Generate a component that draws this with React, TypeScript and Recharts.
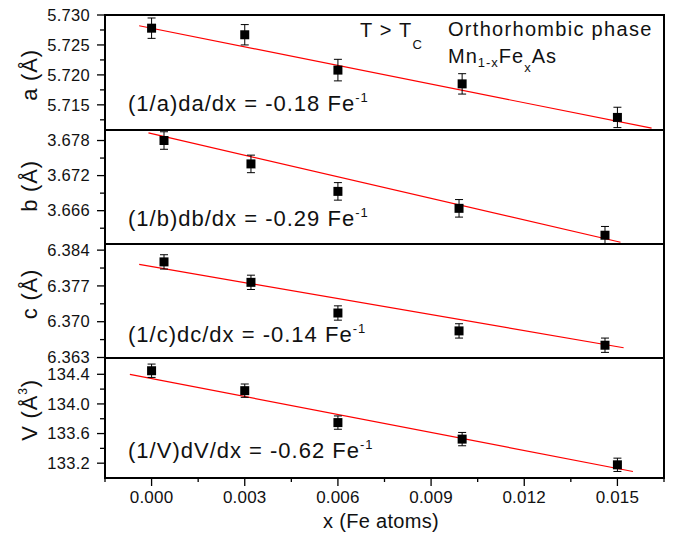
import React from "react";
import { ComposedChart, Scatter, Line, XAxis, YAxis, ZAxis, ErrorBar } from "recharts";

// Fe content of the samples (x in Mn1-xFexAs)
const X_AV = [0.0, 0.003, 0.006, 0.01, 0.015];
const X_BC = [0.0004, 0.0032, 0.006, 0.0099, 0.0146];

// lattice parameters with error bars
const A_VAL = [5.7278, 5.7267, 5.7208, 5.7185, 5.7129];
const A_ERR = [0.0017, 0.0017, 0.0018, 0.0017, 0.0017];
const B_VAL = [3.678, 3.674, 3.6693, 3.6664, 3.6618];
const B_ERR = [0.0015, 0.0015, 0.0015, 0.0015, 0.0015];
const C_VAL = [6.3817, 6.3777, 6.3717, 6.3682, 6.3654];
const C_ERR = [0.0014, 0.0014, 0.0014, 0.0014, 0.0014];
const V_VAL = [134.448, 134.179, 133.748, 133.525, 133.178];
const V_ERR = [0.09, 0.09, 0.09, 0.09, 0.09];

// linear fits (end points)
const FIT_A_X = [-0.0004, 0.0161];
const FIT_A_Y = [5.7282, 5.7111];
const FIT_B_X = [-0.0001, 0.0151];
const FIT_B_Y = [3.6793, 3.6606];
const FIT_C_X = [-0.0004, 0.0152];
const FIT_C_Y = [6.3812, 6.3649];
const FIT_V_X = [-0.0007, 0.0155];
const FIT_V_Y = [134.4, 133.088];

// axes
const X_DOMAIN = [-0.0015, 0.0165];
const X_TICKS = [-0.0015, 0, 0.0015, 0.003, 0.0045, 0.006, 0.0075, 0.009, 0.0105, 0.012, 0.0135, 0.015, 0.0165];
const X_MAJOR = [0, 0.003, 0.006, 0.009, 0.012, 0.015];

const A_TICKS = [5.7125, 5.715, 5.7175, 5.72, 5.7225, 5.725, 5.7275, 5.73];
const A_MAJOR = [5.715, 5.72, 5.725, 5.73];
const B_TICKS = [3.663, 3.666, 3.669, 3.672, 3.675, 3.678];
const B_MAJOR = [3.666, 3.672, 3.678];
const C_TICKS = [6.363, 6.3665, 6.37, 6.3735, 6.377, 6.3805, 6.384];
const C_MAJOR = [6.363, 6.37, 6.377, 6.384];
const V_TICKS = [133.2, 133.4, 133.6, 133.8, 134.0, 134.2, 134.4];
const V_MAJOR = [133.2, 133.6, 134.0, 134.4];

// panel layout (px)
const PLOT_LEFT = 105;
const PLOT_RIGHT = 664;
const PANEL_TOP = [15, 130, 244, 358];
const PANEL_H = [115, 114, 114, 120];
const LW = 2;

const FONT = "'Liberation Sans', Arial, Helvetica, sans-serif";

const isIn = (list: number[], v: number) => list.some((m) => Math.abs(m - v) < 1e-9);

const YTick = (props: any) => {
  const { x, y, payload, majors, digits } = props;
  const v = payload.value;
  const major = isIn(majors, v);
  return (
    <g>
      <line x1={x} x2={x - (major ? 8 : 5)} y1={y} y2={y} stroke="#000" strokeWidth={1.3} />
      {major && (
        <text x={x - 15} y={y} dy="0.35em" textAnchor="end" fontSize={16.5} letterSpacing={0.3} fontFamily={FONT} fill="#111">
          {v.toFixed(digits)}
        </text>
      )}
    </g>
  );
};

const XTick = (props: any) => {
  const { x, y, payload } = props;
  const v = payload.value;
  const major = isIn(X_MAJOR, v);
  return (
    <g>
      <line x1={x} x2={x} y1={y} y2={y + (major ? 8 : 4)} stroke="#000" strokeWidth={1.3} />
      {major && (
        <text x={x} y={y + 25} textAnchor="middle" fontSize={17} letterSpacing={0.2} fontFamily={FONT} fill="#111">
          {v.toFixed(3)}
        </text>
      )}
    </g>
  );
};

interface PanelProps {
  idx: number;
  domain: number[];
  ticks: number[];
  majors: number[];
  digits: number;
  xs: number[];
  ys: number[];
  errs: number[];
  fitX: number[];
  fitY: number[];
  bottom?: boolean;
}

function Panel({ idx, domain, ticks, majors, digits, xs, ys, errs, fitX, fitY, bottom }: PanelProps) {
  const pts = xs.map((x, i) => ({ x, y: ys[i], err: errs[i] }));
  const fit = fitX.map((x, i) => ({ x, y: fitY[i] }));
  const PAD = 12;
  const axisH = bottom ? 59 : 0;
  const top = PANEL_TOP[idx];
  const height = PANEL_H[idx];
  return (
    <div style={{ position: "absolute", left: 0, top: top - PAD }}>
      <ComposedChart
        width={673}
        height={PAD + height + (bottom ? axisH : PAD)}
        margin={{ top: PAD, right: 673 - PLOT_RIGHT, bottom: bottom ? 0 : PAD, left: 0 }}
      >
        <ZAxis range={[81, 81]} />
        <XAxis
          dataKey="x"
          type="number"
          domain={X_DOMAIN}
          ticks={X_TICKS}
          allowDataOverflow
          height={axisH}
          axisLine={false}
          tickLine={false}
          tickSize={0}
          tickMargin={0}
          tick={bottom ? <XTick /> : false}
          interval={0}
        />
        <YAxis
          dataKey="y"
          type="number"
          domain={domain}
          ticks={ticks}
          allowDataOverflow
          width={PLOT_LEFT}
          axisLine={false}
          tickLine={false}
          tickSize={0}
          tickMargin={0}
          interval={0}
          tick={<YTick majors={majors} digits={digits} />}
        />
        <Line data={fit} dataKey="y" stroke="#ff0000" strokeWidth={1.2} dot={false} isAnimationActive={false} />
        <Scatter data={pts} dataKey="y" shape="square" fill="#000" isAnimationActive={false}>
          <ErrorBar dataKey="err" direction="y" width={4} stroke="#000" strokeWidth={1} />
        </Scatter>
      </ComposedChart>
    </div>
  );
}

const txt = { fontFamily: FONT, fill: "#111" };

export default function App() {
  const eqs: { y: number; s: string; val: string }[] = [
    { y: 111, s: "a", val: "-0.18" },
    { y: 226, s: "b", val: "-0.29" },
    { y: 342, s: "c", val: "-0.14" },
    { y: 458, s: "V", val: "-0.62" },
  ];
  const frameTop = PANEL_TOP[0];
  const frameBottom = PANEL_TOP[3] + PANEL_H[3];
  return (
    <div style={{ position: "absolute", left: 0, top: 0, width: 673, height: 537, background: "#fff" }}>
      <Panel idx={0} domain={[5.7108, 5.73]} ticks={A_TICKS} majors={A_MAJOR} digits={3}
        xs={X_AV} ys={A_VAL} errs={A_ERR} fitX={FIT_A_X} fitY={FIT_A_Y} />
      <Panel idx={1} domain={[3.6603, 3.6798]} ticks={B_TICKS} majors={B_MAJOR} digits={3}
        xs={X_BC} ys={B_VAL} errs={B_ERR} fitX={FIT_B_X} fitY={FIT_B_Y} />
      <Panel idx={2} domain={[6.3629, 6.3852]} ticks={C_TICKS} majors={C_MAJOR} digits={3}
        xs={X_BC} ys={C_VAL} errs={C_ERR} fitX={FIT_C_X} fitY={FIT_C_Y} />
      <Panel idx={3} domain={[133.0, 134.62]} ticks={V_TICKS} majors={V_MAJOR} digits={1}
        xs={X_AV} ys={V_VAL} errs={V_ERR} fitX={FIT_V_X} fitY={FIT_V_Y} bottom />
      <svg width={673} height={537} style={{ position: "absolute", left: 0, top: 0, pointerEvents: "none" }}>
        {/* panel frames, drawn as solid bars */}
        <rect x={PLOT_LEFT - LW / 2} y={frameTop - LW / 2} width={LW} height={frameBottom - frameTop + LW} fill="#000" />
        <rect x={PLOT_RIGHT - LW / 2} y={frameTop - LW / 2} width={LW} height={frameBottom - frameTop + LW} fill="#000" />
        {[...PANEL_TOP, frameBottom].map((t) => (
          <rect key={t} x={PLOT_LEFT - LW / 2} y={t - LW / 2} width={PLOT_RIGHT - PLOT_LEFT + LW} height={LW} fill="#000" />
        ))}
        {/* y titles */}
        <text transform="translate(37,75) rotate(-90)" textAnchor="middle" fontSize={22} letterSpacing={0.8} {...txt}>a (Å)</text>
        <text transform="translate(37,186) rotate(-90)" textAnchor="middle" fontSize={22} letterSpacing={0.8} {...txt}>b (Å)</text>
        <text transform="translate(37,294) rotate(-90)" textAnchor="middle" fontSize={22} letterSpacing={0.8} {...txt}>c (Å)</text>
        <text transform="translate(37,410) rotate(-90)" textAnchor="middle" fontSize={22} letterSpacing={0.8} {...txt}>
          V (Å<tspan dy={-10} fontSize={12}>3</tspan><tspan dy={10}>)</tspan>
        </text>
        {/* header */}
        <text x={360} y={37} fontSize={20} letterSpacing={1.2} {...txt}>
          T &gt; T<tspan dy={12} fontSize={13}>C</tspan>
        </text>
        <text x={448} y={36} fontSize={20} letterSpacing={1.3} {...txt}>Orthorhombic phase</text>
        <text x={448} y={63} fontSize={20} letterSpacing={1} {...txt}>
          Mn<tspan dy={4} fontSize={13}>1-x</tspan><tspan dy={-4}>Fe</tspan>
          <tspan dy={9} fontSize={13}>x</tspan><tspan dy={-9}>As</tspan>
        </text>
        {/* equations */}
        {eqs.map((e) => (
          <text key={e.s} x={128} y={e.y} fontSize={22} letterSpacing={1.0} {...txt}>
            (1/{e.s})d{e.s}/dx = {e.val} Fe<tspan dy={-9} fontSize={13}>-1</tspan>
          </text>
        ))}
        {/* x title */}
        <text x={381} y={528} textAnchor="middle" fontSize={20} letterSpacing={0.3} {...txt}>x (Fe atoms)</text>
      </svg>
    </div>
  );
}
